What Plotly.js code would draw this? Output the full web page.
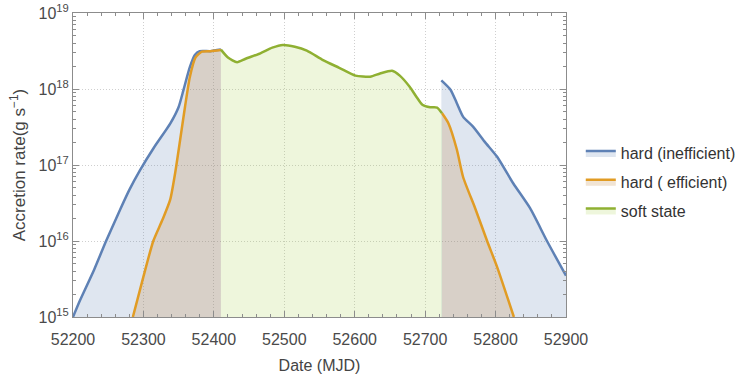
<!DOCTYPE html>
<html>
<head>
<meta charset="utf-8">
<script src="https://cdn.plot.ly/plotly-3.0.1.min.js"></script>
<style>
  html, body { margin: 0; padding: 0; background: #fff; }
  #chart { width: 738px; height: 375px; }
</style>
</head>
<body>
<div id="chart"></div>
<script>
// Hard state, radiatively inefficient branch (rise and decay)
const hardIneffRiseX = [52200, 52210, 52230, 52247, 52267, 52280, 52295, 52315, 52338, 52350, 52357, 52366, 52373, 52380, 52395, 52410];
const hardIneffRiseY = [1.0e15, 1.66e15, 4.2e15, 1.0e16, 2.6e16, 4.7e16, 8.5e16, 1.7e17, 3.5e17, 5.8e17, 9.8e17, 1.95e18, 2.8e18, 3.15e18, 3.15e18, 3.3e18];
const hardIneffDecayX = [52723, 52736, 52745, 52754, 52768, 52785, 52802, 52825, 52849, 52873, 52900];
const hardIneffDecayY = [1.3e18, 9.8e17, 6.5e17, 4.3e17, 3.2e17, 2.0e17, 1.29e17, 5.75e16, 2.7e16, 1.0e16, 3.5e15];

// Hard state, radiatively efficient branch
const hardEffRiseX = [52285, 52300, 52314, 52327, 52338, 52345, 52352, 52359, 52366, 52374, 52383, 52395, 52410];
const hardEffRiseY = [1.0e15, 3.4e15, 1.0e16, 1.9e16, 3.5e16, 7.8e16, 2.1e17, 5.8e17, 1.45e18, 2.6e18, 3.1e18, 3.15e18, 3.25e18];
const hardEffDecayX = [52724, 52733, 52745, 52754, 52771, 52788, 52802, 52826];
const hardEffDecayY = [4.8e17, 3.55e17, 1.6e17, 6.9e16, 2.7e16, 1.0e16, 4.6e15, 1.0e15];

// Soft state
const softX = [52410, 52420, 52433, 52445, 52466, 52483, 52498, 52515, 52532, 52555, 52578, 52601, 52622, 52636, 52653, 52664, 52678, 52688, 52696, 52707, 52717, 52724];
const softY = [3.3e18, 2.6e18, 2.25e18, 2.5e18, 2.95e18, 3.5e18, 3.8e18, 3.6e18, 3.2e18, 2.4e18, 1.9e18, 1.5e18, 1.45e18, 1.6e18, 1.74e18, 1.5e18, 1.07e18, 7.8e17, 6.2e17, 5.75e17, 5.7e17, 4.8e17];

const xTicks = [52200, 52300, 52400, 52500, 52600, 52700, 52800, 52900];
const yTicks = [1e15, 1e16, 1e17, 1e18, 1e19];
const yTickText = ['10<sup>15</sup>', '10<sup>16</sup>', '10<sup>17</sup>', '10<sup>18</sup>', '10<sup>19</sup>'];

const names = ['hard (inefficient)', 'hard ( efficient)', 'soft state'];
const lineColors = ['#5e81b5', '#e19c24', '#8fb032'];
const fillColors = ['rgba(94,129,181,0.2)', 'rgba(190,130,60,0.22)', 'rgba(170,210,80,0.2)'];

const FONT = 'Liberation Sans, Arial, sans-serif';

function series(x, y, i, show) {
  return {
    x: x, y: y, type: 'scatter', mode: 'lines',
    name: names[i], legendgroup: 'g' + i, showlegend: show,
    line: { color: lineColors[i], width: 2.5, shape: 'spline', smoothing: 0.6 },
    fill: 'tozeroy', fillcolor: fillColors[i],
    hoverinfo: 'skip'
  };
}

const traces = [
  series(hardIneffRiseX, hardIneffRiseY, 0, true),
  series(hardIneffDecayX, hardIneffDecayY, 0, false),
  series(hardEffRiseX, hardEffRiseY, 1, true),
  series(hardEffDecayX, hardEffDecayY, 1, false),
  series(softX, softY, 2, true)
];

const axisCommon = {
  showline: true, linecolor: '#8c8c8c', linewidth: 1, mirror: 'ticks',
  ticks: 'inside', ticklen: 6, tickcolor: '#8c8c8c', tickwidth: 1,
  showgrid: true, gridcolor: '#cfcfcf', griddash: '1px,2px', gridwidth: 1,
  zeroline: false,
  tickfont: { family: FONT, size: 16, color: '#4a4a4a' }
};

const layout = {
  width: 738, height: 375,
  margin: { l: 73, r: 172, t: 13, b: 58, autoexpand: false },
  paper_bgcolor: '#ffffff', plot_bgcolor: '#ffffff',
  font: { family: FONT, color: '#444' },
  xaxis: Object.assign({}, axisCommon, {
    range: [52200, 52900], tickvals: xTicks, ticktext: xTicks.map(String),
    ticklabelstandoff: 8,
    minor: { dtick: 20, tick0: 52200, ticks: 'inside', ticklen: 3, tickcolor: '#8c8c8c', showgrid: false },
    title: { text: 'Date (MJD)', font: { family: FONT, size: 16, color: '#444' }, standoff: 12 }
  }),
  yaxis: Object.assign({}, axisCommon, {
    type: 'log', range: [15, 19], tickvals: yTicks, ticktext: yTickText,
    minor: { dtick: 'D1', ticks: 'inside', ticklen: 3, tickcolor: '#8c8c8c', showgrid: false },
    title: { text: 'Accretion rate(g s<sup>\u22121</sup>)', font: { family: FONT, size: 17, color: '#444' }, standoff: 8 }
  }),
  legend: {
    x: 1.03, xanchor: 'left', y: 0.595, yanchor: 'top',
    font: { family: FONT, size: 16, color: '#333' },
    tracegroupgap: 5, bgcolor: 'rgba(0,0,0,0)'
  },
  showlegend: true
};

Plotly.newPlot('chart', traces, layout, { staticPlot: true, displayModeBar: false });
</script>
</body>
</html>
